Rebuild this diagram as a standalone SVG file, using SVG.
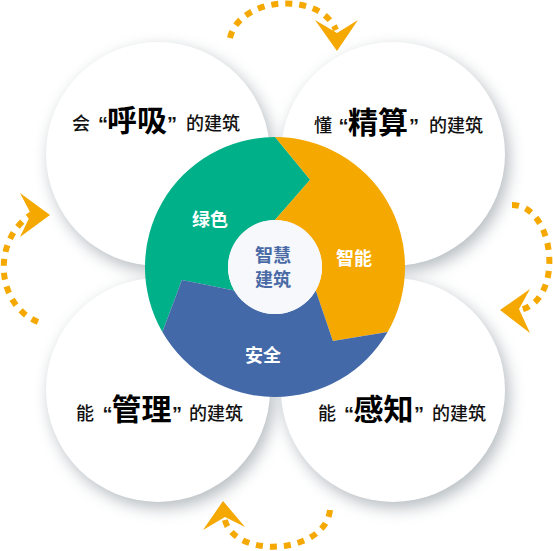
<svg xmlns="http://www.w3.org/2000/svg" width="553" height="551" viewBox="0 0 553 551">
  <defs>
    <filter id="blur" x="-30%" y="-30%" width="160%" height="160%">
      <feGaussianBlur stdDeviation="8"/>
    </filter>
    <style>
      .bub{fill:#ffffff}
      .sh{fill:#87929a}
      .sm{font-family:"Noto Sans CJK SC","Noto Sans",sans-serif;font-size:18px;font-weight:500;fill:#111}
      .bg{font-family:"Noto Sans CJK SC","Noto Sans",sans-serif;font-size:30px;font-weight:bold;fill:#000}
      .q{font-family:"Liberation Sans",Arial,sans-serif;font-size:20px;font-weight:bold;fill:#111}
      .seg{font-family:"Noto Sans CJK SC","Noto Sans",sans-serif;font-size:18px;font-weight:bold;fill:#fff;text-anchor:middle}
      .core{font-family:"Noto Sans CJK SC","Noto Sans",sans-serif;font-size:18px;font-weight:bold;fill:#4a6aa6;text-anchor:middle}
      .dash{fill:none;stroke:#f5a800;stroke-width:6;stroke-dasharray:7 7}
      .head{fill:#f5a800}
    </style>
  </defs>
  <rect width="553" height="551" fill="#ffffff"/>

  <!-- shadows -->
  <g id="shadows" filter="url(#blur)" opacity="0.62">
    <circle class="sh" cx="162" cy="160" r="112"/>
    <circle class="sh" cx="397" cy="160" r="112"/>
    <circle class="sh" cx="162" cy="396" r="112"/>
    <circle class="sh" cx="397" cy="396" r="112"/>
  </g>

  <!-- connectors (cycle arrows) -->
  <g id="connectors">
    <path class="dash" d="M230,38 C240,-4 320,-9 336,30"/>
    <polygon class="head" points="315,20 337,33 358,20 337,51"/>
    <path class="dash" d="M38,322 C-4,305 -9,240 32,214"/>
    <polygon class="head" points="20,193 50,215 20,237 31,214"/>
    <path class="dash" d="M512,205 C555,205 565,300 520,310"/>
    <polygon class="head" points="530,289 500,310 530,333 519,309"/>
    <path class="dash" d="M330,510 C325,556 228,560 224,515"/>
    <polygon class="head" points="203,530 223,501 245,527 225,517"/>
  </g>

  <g id="node-breathe">
    <circle class="bub" cx="158" cy="154" r="112"/>
    <text class="sm" x="72" y="130">会</text>
    <text class="q" x="98" y="131">“</text>
    <text class="bg" x="107" y="131">呼吸</text>
    <text class="q" x="167" y="131">”</text>
    <text class="sm" x="186" y="130">的建筑</text>
  </g>

  <g id="node-calc">
    <circle class="bub" cx="393" cy="154" r="112"/>
    <text class="sm" x="314" y="132">懂</text>
    <text class="q" x="338.5" y="133">“</text>
    <text class="bg" x="348" y="133">精算</text>
    <text class="q" x="409" y="133">”</text>
    <text class="sm" x="429" y="132">的建筑</text>
  </g>

  <g id="node-manage">
    <circle class="bub" cx="158" cy="390" r="112"/>
    <text class="sm" x="76" y="420">能</text>
    <text class="q" x="102.5" y="421">“</text>
    <text class="bg" x="111.5" y="420">管理</text>
    <text class="q" x="172" y="421">”</text>
    <text class="sm" x="189" y="420">的建筑</text>
  </g>

  <g id="node-sense">
    <circle class="bub" cx="393" cy="390" r="112"/>
    <text class="sm" x="318" y="420">能</text>
    <text class="q" x="344" y="421">“</text>
    <text class="bg" x="353.5" y="420">感知</text>
    <text class="q" x="414" y="421">”</text>
    <text class="sm" x="432" y="420">的建筑</text>
  </g>

  <g id="node-green">
    <path fill="#00b089" d="M162.4,332 A130,130 0 0 1 275,137 L310.2,179.8 L275,220 A47,47 0 0 0 234.3,290.5 L181.9,280.1 Z"/>
    <text class="seg" x="210" y="226">绿色</text>
  </g>
  <g id="node-smart">
    <path fill="#f5a800" d="M275,137 A130,130 0 0 1 387.6,332 L332.9,341.1 L315.7,290.5 A47,47 0 0 0 275,220 L310.2,179.8 Z"/>
    <text class="seg" x="354" y="265">智能</text>
  </g>
  <g id="node-safe">
    <path fill="#4369a8" d="M387.6,332 A130,130 0 0 1 162.4,332 L181.9,280.1 L234.3,290.5 A47,47 0 0 0 315.7,290.5 L332.9,341.1 Z"/>
    <text class="seg" x="263" y="362">安全</text>
  </g>
  <g id="node-core">
    <circle cx="275" cy="267" r="47" fill="#f6f8fb"/>
    <text class="core" x="273" y="262">智慧</text>
    <text class="core" x="273" y="286">建筑</text>
  </g>
</svg>
